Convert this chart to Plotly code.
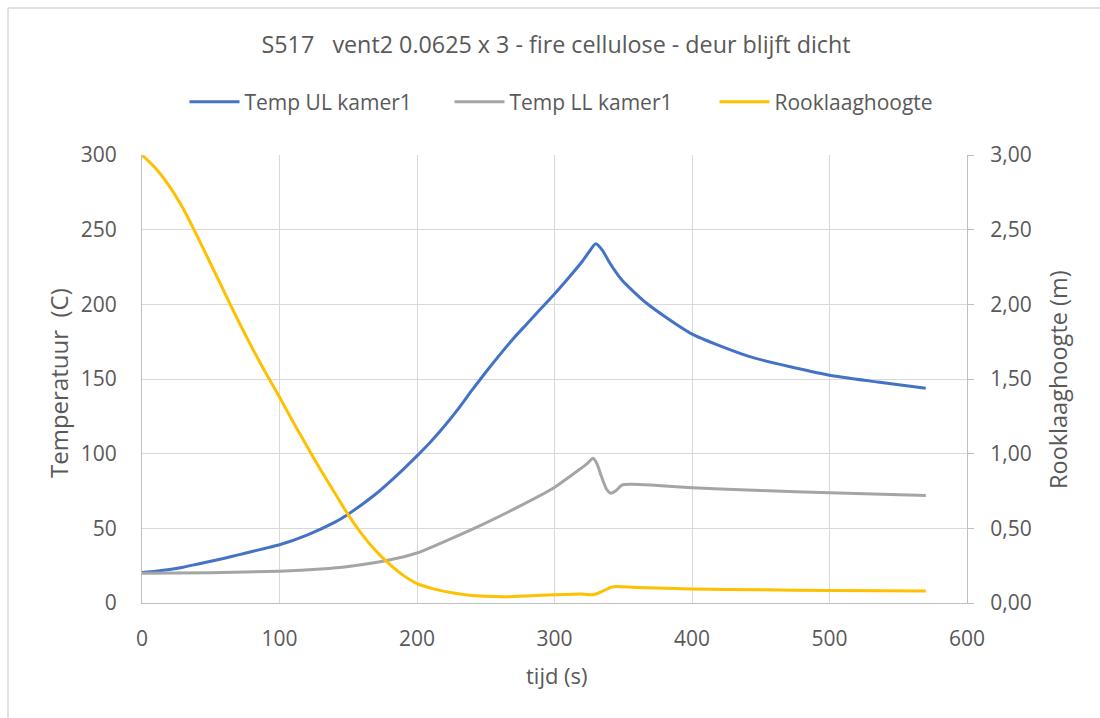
import plotly.graph_objects as go

# Temperature of the upper layer (kamer1)
t_ul = [0, 10, 20, 30, 40, 50, 60, 70, 80, 90, 100, 120, 140, 150, 160, 170, 180, 190, 200,
        210, 220, 230, 240, 250, 260, 270, 280, 290, 300, 310, 320, 325, 330, 335, 340, 349,
        367, 399, 442, 499, 535, 570]
temp_ul = [20.5, 21.3, 22.4, 24.0, 26.0, 28.0, 30.0, 32.2, 34.5, 36.7, 39.0, 45.5, 54.0, 59.5,
           66.0, 73.0, 81.0, 89.5, 98.5, 108.0, 118.5, 130.0, 142.5, 154.5, 166.0, 177.0,
           187.0, 197.0, 207.0, 217.5, 228.5, 235.0, 240.5, 236.0, 228.0, 216.3, 200.7,
           180.6, 165.0, 152.7, 148.0, 143.8]

# Temperature of the lower layer (kamer1)
t_ll = [0, 50, 100, 130, 150, 178, 200, 217, 244, 274, 299, 319, 324, 328, 331, 334,
        338, 341, 345, 349, 356, 370, 400, 450, 500, 570]
temp_ll = [20.0, 20.3, 21.3, 22.8, 24.5, 28.5, 33.5, 40.0, 51.0, 64.5, 76.8, 90.0, 93.5,
           96.9, 93.0, 85.0, 76.0, 73.5, 75.5, 79.0, 79.5, 79.0, 77.2, 75.3, 73.8, 72.0]

# Smoke layer height (m)
t_rook = [0, 10, 20, 30, 40, 50, 60, 70, 80, 90, 100, 110, 120, 130, 140, 150, 160, 170,
          180, 190, 200, 210, 220, 235, 250, 265, 280, 300, 320, 328, 334, 341, 345, 360,
          400, 450, 500, 570]
rook = [3.00, 2.91, 2.79, 2.64, 2.46, 2.27, 2.08, 1.89, 1.71, 1.54, 1.38, 1.21, 1.05, 0.89,
        0.74, 0.59, 0.46, 0.35, 0.26, 0.185, 0.13, 0.10, 0.078, 0.056, 0.045, 0.042, 0.047,
        0.055, 0.060, 0.055, 0.075, 0.105, 0.110, 0.104, 0.094, 0.088, 0.084, 0.080]

temp_ticks = [0, 50, 100, 150, 200, 250, 300]
rook_ticks = [0, 0.5, 1.0, 1.5, 2.0, 2.5, 3.0]
x_ticks = [0, 100, 200, 300, 400, 500, 600]

TXT = "#595959"
GRID = "#d9d9d9"
AXIS = "#bfbfbf"
FONT = "Open Sans"
NB = "\u00a0"

W, H = 1100, 718
L, R, T, B = 142, 133, 155, 115
pw, ph = W - L - R, H - T - B


def px_x(px):
    return (px - L) / pw


def px_y(py):
    return (H - B - py) / ph


spline = dict(width=3, shape="spline", smoothing=0.6)

fig = go.Figure()
fig.add_trace(go.Scatter(x=t_ul, y=temp_ul, name="Temp UL kamer1", mode="lines",
                         line=dict(color="#4472C4", **spline)))
fig.add_trace(go.Scatter(x=t_ll, y=temp_ll, name="Temp LL kamer1", mode="lines",
                         line=dict(color="#A5A5A5", **spline)))
fig.add_trace(go.Scatter(x=t_rook, y=rook, name="Rooklaaghoogte", mode="lines", yaxis="y2",
                         line=dict(color="#FFC000", **spline)))

fig.update_layout(
    width=W, height=H,
    margin=dict(l=L, r=R, t=T, b=B),
    paper_bgcolor="white", plot_bgcolor="white",
    separators=",.",
    font=dict(family=FONT, size=21, color=TXT),
    title=dict(text="S517" + NB * 3 + "vent2 0.0625 x 3 - fire cellulose - deur blijft dicht",
               x=px_x(556), xref="paper", xanchor="center",
               y=1 - 45 / H, yref="container", yanchor="middle",
               font=dict(family=FONT, size=23.3, color=TXT)),
    legend=dict(orientation="h", x=px_x(582), xanchor="center", y=px_y(102), yanchor="middle",
                font=dict(family=FONT, size=21, color=TXT), bgcolor="rgba(0,0,0,0)",
                itemwidth=50, entrywidth=200, entrywidthmode="pixels"),
    showlegend=True,
    xaxis=dict(range=[0, 600], tickvals=x_ticks, showgrid=True, gridcolor=GRID, gridwidth=1,
               showline=True, linecolor=AXIS, linewidth=1, zeroline=False, ticks="",
               ticklabelstandoff=17, tickfont=dict(size=21, color=TXT)),
    yaxis=dict(range=[0, 300], tickvals=temp_ticks, showgrid=True, gridcolor=GRID, gridwidth=1,
               showline=True, linecolor=AXIS, linewidth=1, zeroline=False, ticks="",
               ticklabelstandoff=20, tickfont=dict(size=21, color=TXT)),
    yaxis2=dict(range=[0, 3], tickvals=rook_ticks, tickformat=".2f", overlaying="y",
                side="right", showgrid=False, showline=True, linecolor=AXIS, linewidth=1,
                zeroline=False, ticks="outside", ticklen=6, tickcolor=AXIS,
                ticklabelstandoff=12, tickfont=dict(size=21, color=TXT)),
    annotations=[
        dict(text="Temperatuur" + NB * 2 + "(C)", textangle=-90, xref="paper", yref="paper",
             x=px_x(58), y=px_y(383), xanchor="center", yanchor="middle", showarrow=False,
             font=dict(family=FONT, size=24, color=TXT)),
        dict(text="Rooklaaghoogte (m)", textangle=-90, xref="paper", yref="paper",
             x=px_x(1058), y=px_y(380), xanchor="center", yanchor="middle", showarrow=False,
             font=dict(family=FONT, size=23.5, color=TXT)),
        dict(text="tijd (s)", xref="paper", yref="paper",
             x=px_x(557), y=px_y(675), xanchor="center", yanchor="middle", showarrow=False,
             font=dict(family=FONT, size=22, color=TXT)),
    ],
    shapes=[
        # chart area border (top and left edges)
        dict(type="line", xref="paper", yref="paper", x0=px_x(8), x1=px_x(W + 5),
             y0=px_y(8), y1=px_y(8), line=dict(color=GRID, width=1.5)),
        dict(type="line", xref="paper", yref="paper", x0=px_x(8), x1=px_x(8),
             y0=px_y(8), y1=px_y(H + 5), line=dict(color=GRID, width=1.5)),
    ],
)

fig.write_html("out.html")
